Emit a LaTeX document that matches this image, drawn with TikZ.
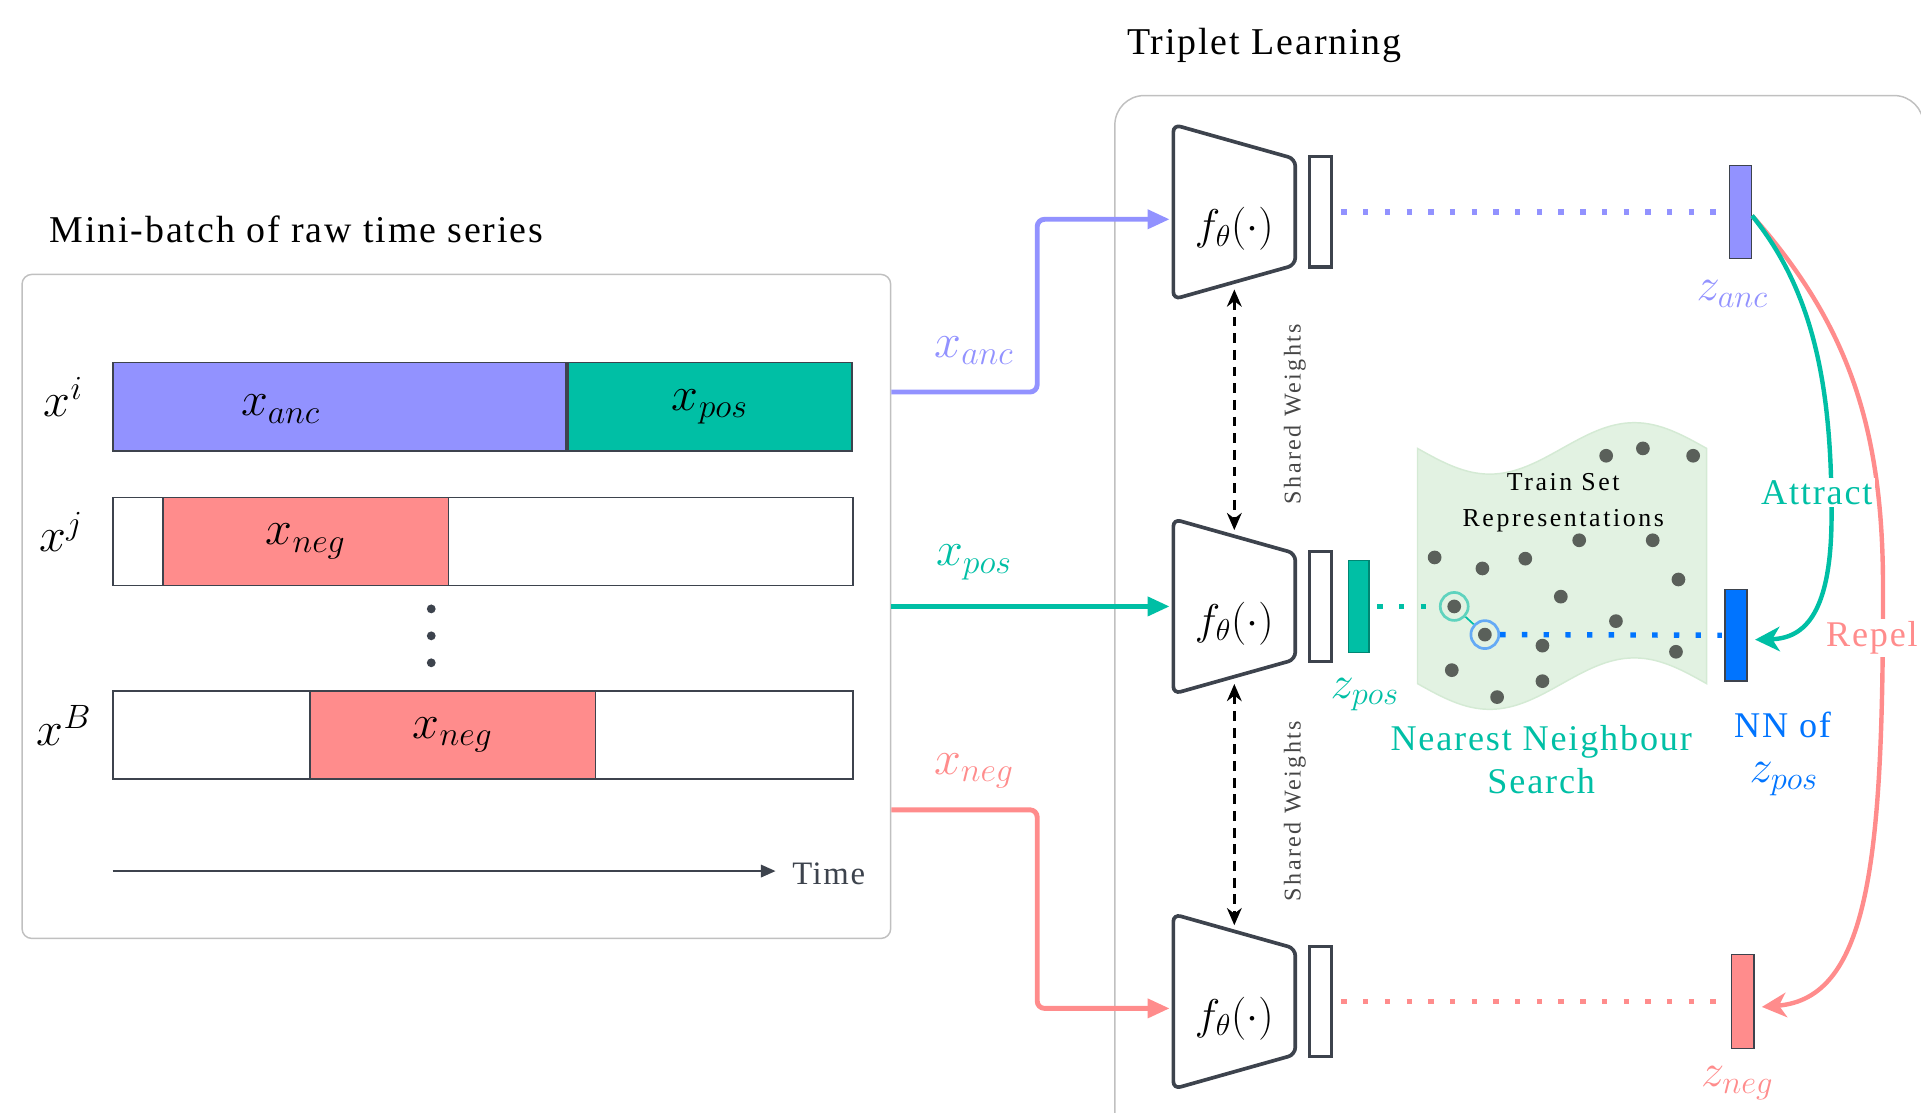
\RequirePackage{fix-cm}
\documentclass[tikz,border=0pt]{standalone}
\usepackage[no-math]{fontspec}
\setmainfont{Liberation Serif}[LetterSpace=5]
\newfontfamily\widefont{Liberation Serif}[LetterSpace=10]
\usetikzlibrary{arrows.meta,positioning,calc}
\definecolor{colAnc}{RGB}{146,146,255}
\definecolor{colPos}{RGB}{0,191,165}
\definecolor{colNeg}{RGB}{255,140,140}
\definecolor{colNN}{RGB}{0,116,255}
\definecolor{edge}{RGB}{61,67,77}
\definecolor{panelgray}{RGB}{192,192,192}
\definecolor{blob}{RGB}{226,242,226}
\definecolor{blobedge}{RGB}{212,234,212}
\definecolor{ptgray}{RGB}{90,96,90}
\definecolor{ringPos}{RGB}{95,211,190}
\definecolor{ringNN}{RGB}{100,170,245}
\definecolor{wgray}{RGB}{70,70,70}
\tikzset{
  panel/.style    = {draw=panelgray, line width=0.3mm, rounded corners=2mm, inner sep=0pt},
  segment/.style  = {draw=edge, line width=0.35mm, minimum height=18mm, inner sep=0pt,
                     font=\fontsize{28}{30}\selectfont},
  mathlbl/.style  = {inner sep=1pt, font=\fontsize{28}{30}\selectfont},
  zlbl/.style     = {inner sep=1pt, font=\fontsize{27}{29}\selectfont},
  caption/.style  = {inner sep=1pt, font=\fontsize{22}{26}\selectfont},
  colortext/.style= {inner sep=1pt, align=center, font=\fontsize{21}{25}\selectfont},
  enc/.style      = {minimum width=24.75mm, minimum height=35.5mm, inner sep=0pt},
  encline/.style  = {draw=edge, line width=0.75mm, rounded corners=1.5mm},
  ftext/.style    = {inner sep=0pt, font=\fontsize{25}{27}\selectfont},
  vec/.style      = {draw=edge, line width=0.65mm, minimum width=4.5mm, minimum height=22.5mm, inner sep=0pt},
  zvec/.style     = {draw=edge, line width=0.3mm, minimum width=4.5mm, minimum height=19mm, inner sep=0pt},
  feed/.style     = {line width=1mm, rounded corners=1.5mm, -{Triangle[length=4.5mm,width=3.8mm]}},
  pull/.style     = {line width=0.9mm, -{Stealth[length=5mm,width=5mm,inset=1.5mm]}},
  dotline/.style  = {line width=1.1mm, dash pattern=on 1.1mm off 3.33mm},
  shared/.style   = {line width=0.7mm, dash pattern=on 2mm off 1.4mm,
                     {Stealth[length=3.5mm,width=3mm]}-{Stealth[length=3.5mm,width=3mm]}},
  weights/.style  = {rotate=90, text=wgray, font=\widefont\fontsize{14}{16}\selectfont},
  ring/.style     = {circle, line width=0.55mm, minimum size=5.7mm, inner sep=0pt}
}

\begin{document}
\begin{tikzpicture}[x=0.25mm, y=-0.25mm]
\useasboundingbox (0,0) rectangle (1568,908);

\node[panel, minimum width=177.25mm, minimum height=135.5mm] (batch) at (372.5,495) {};
\node[caption] (batch-title) at (242,187) {Mini-batch of raw time series};

\node[segment, fill=colAnc, minimum width=92.5mm] (anc-i) at (277,332) {};
\node[segment, fill=colPos, minimum width=58mm, right=0pt of anc-i] (pos-i) {$x_{pos}$};
\node[mathlbl] (anc-txt) at (229,334) {$x_{anc}$};
\node[segment, minimum width=151mm] (row-j) at (394,442) {};
\node[segment, fill=colNeg, minimum width=58.25mm] (neg-j) at (249.5,442) {$x_{neg}$};
\node[segment, minimum width=151mm] (row-b) at (394,600) {};
\node[segment, fill=colNeg, minimum width=58.25mm] (neg-b) at (369.5,600) {$x_{neg}$};

\node[mathlbl, left=5.5mm of anc-i, yshift=2mm] (lbl-i) {$x^i$};
\node[mathlbl, left=5.5mm of row-j, yshift=2mm] (lbl-j) {$x^j$};
\node[mathlbl, left=3.75mm of row-b, yshift=2mm] (lbl-b) {$x^B$};
\foreach \y in {497,519,541}
  \fill[edge] (352,\y) circle (0.9mm);

\coordinate (t-start) at (92,711);
\coordinate (t-end) at (633,711);
\draw[edge, line width=0.3mm, -{Triangle[length=3mm,width=2.6mm]}] (t-start) -- (t-end);
\node[anchor=west, inner sep=1pt, text=edge, font=\fontsize{19}{22}\selectfont] (time) at (645,713) {Time};

\coordinate (out-anc) at ([yshift=43.75mm]batch.east);
\coordinate (out-neg) at ([yshift=-41.5mm]batch.east);

\node[panel, rounded corners=6mm, minimum width=165mm, minimum height=215.5mm] (triplet) at (1240,509) {};
\node[caption] (triplet-title) at (1032,37) {Triplet Learning};

\node[enc] (enc-anc) at (1007.5,173) {};
\node[enc] (enc-pos) at (1007.5,495) {};
\node[enc] (enc-neg) at (1007.5,817.5) {};
\foreach \n in {anc,pos,neg} {
  \draw[encline] (enc-\n.north west) -- ([yshift=-7mm]enc-\n.north east)
    -- ([yshift=7mm]enc-\n.south east) -- (enc-\n.south west) -- cycle;
  \node[ftext] (f-\n) at ([yshift=-3.5mm]enc-\n.center) {$f_\theta(\cdot)$};
  \node[vec, right=2.5mm of enc-\n] (h-\n) {};
}

\draw[feed, colAnc] (out-anc) -- ++(119,0) |- ([xshift=-0.75mm,yshift=-1.5mm]enc-anc.west);
\draw[feed, colPos] (batch.east) -- ([xshift=-0.75mm]enc-pos.west);
\draw[feed, colNeg] (out-neg) -- ++(119,0) |- ([xshift=-0.75mm,yshift=-1.4mm]enc-neg.west);
\node[mathlbl, text=colAnc] (lbl-xanc) at (795,286) {$x_{anc}$};
\node[mathlbl, text=colPos] (lbl-xpos) at (795,459) {$x_{pos}$};
\node[mathlbl, text=colNeg] (lbl-xneg) at (795,629) {$x_{neg}$};

\draw[shared] ([yshift=2mm]enc-anc.south) -- ([yshift=-2.25mm]enc-pos.north);
\draw[shared] ([yshift=2mm]enc-pos.south) -- ([yshift=-2.25mm]enc-neg.north);
\node[weights] (w-top) at (1057,338) {Shared Weights};
\node[weights] (w-bottom) at (1057,662) {Shared Weights};

\node[zvec, fill=colPos, draw=colPos!70!black, minimum width=4.25mm, minimum height=18.75mm,
      right=3mm of h-pos] (z-pos) {};
\node[zvec, fill=colAnc, right=80.75mm of h-anc] (z-anc) {};
\node[zvec, fill=colNeg, minimum height=19.25mm, right=81.25mm of h-neg] (z-neg) {};
\node[zvec, fill=colNN, minimum height=18.75mm] (z-nn) at (1417,518.5) {};

\draw[fill=blob, draw=blobedge, line width=0.3mm] (1157,366) sin (1216,387) cos (1275,366)
  sin (1334,345) cos (1393,366) -- (1393,558) sin (1334,537) cos (1275,558)
  sin (1216,579) cos (1157,558) -- cycle;
\node[align=center, inner sep=1pt, font=\widefont\fontsize{15}{21}\selectfont] (train-set) at (1276,410)
  {Train Set\\Representations};
\foreach \x/\y in {1311/372, 1341/366, 1382/372, 1171/455, 1210/464, 1245/456, 1289/441,
                   1349/441, 1370/473, 1274/487, 1319/507, 1187/495, 1212/518, 1259/527,
                   1368/532, 1185/547, 1259/556, 1222/569}
  \fill[ptgray] (\x,\y) circle (1.4mm);
\node[ring, draw=ringPos] (ring-pos) at (1187,495) {};
\node[ring, draw=ringNN] (ring-nn) at (1212,518) {};
\draw[colPos, line width=0.35mm] (ring-pos) -- (ring-nn);

\draw[dotline, colAnc] ([xshift=1.75mm]h-anc.east) -- ([xshift=-0.75mm]z-anc.west);
\draw[dotline, colNeg] ([xshift=1.75mm]h-neg.east) -- ([xshift=-0.75mm]z-neg.west);
\draw[dotline, colPos] ([xshift=1.5mm]z-pos.east) -- (ring-pos.west);
\draw[dotline, colNN] (ring-nn.east) -- ([xshift=-0.5mm]z-nn.west);

\draw[pull, colNeg] ([yshift=-0.75mm]z-anc.east) .. controls +(79,89) and +(0,-130) .. (1537,480)
  .. controls +(0,220) and +(88,-7) .. ([xshift=1.5mm,yshift=-1.1mm]z-neg.east);
\node[colortext, text=colNeg, fill=white, inner sep=0.5mm] (repel) at (1528,521) {Repel};
\draw[pull, colPos] ([yshift=-0.75mm]z-anc.east) .. controls +(52,64) and +(0,-100) .. (1495,420)
  .. controls +(0,80) and +(41,-1) .. ([xshift=1.5mm,yshift=-0.9mm]z-nn.east);
\node[colortext, text=colPos, fill=white, inner sep=0.5mm] (attract) at (1483,402) {Attract};

\node[colortext, text=colPos] (nn-search) at (1258,620) {Nearest Neighbour\\Search};
\node[colortext, text=colNN] (nn-of) at (1455,592) {NN of};
\node[zlbl, text=colNN] (nn-z) at (1456,636) {$z_{pos}$};
\node[zlbl, text=colPos] (lbl-zpos) at (1114,567) {$z_{pos}$};
\node[zlbl, text=colAnc] (lbl-zanc) at (1414,240) {$z_{anc}$};
\node[zlbl, text=colNeg] (lbl-zneg) at (1418,884) {$z_{neg}$};
\end{tikzpicture}
\end{document}
